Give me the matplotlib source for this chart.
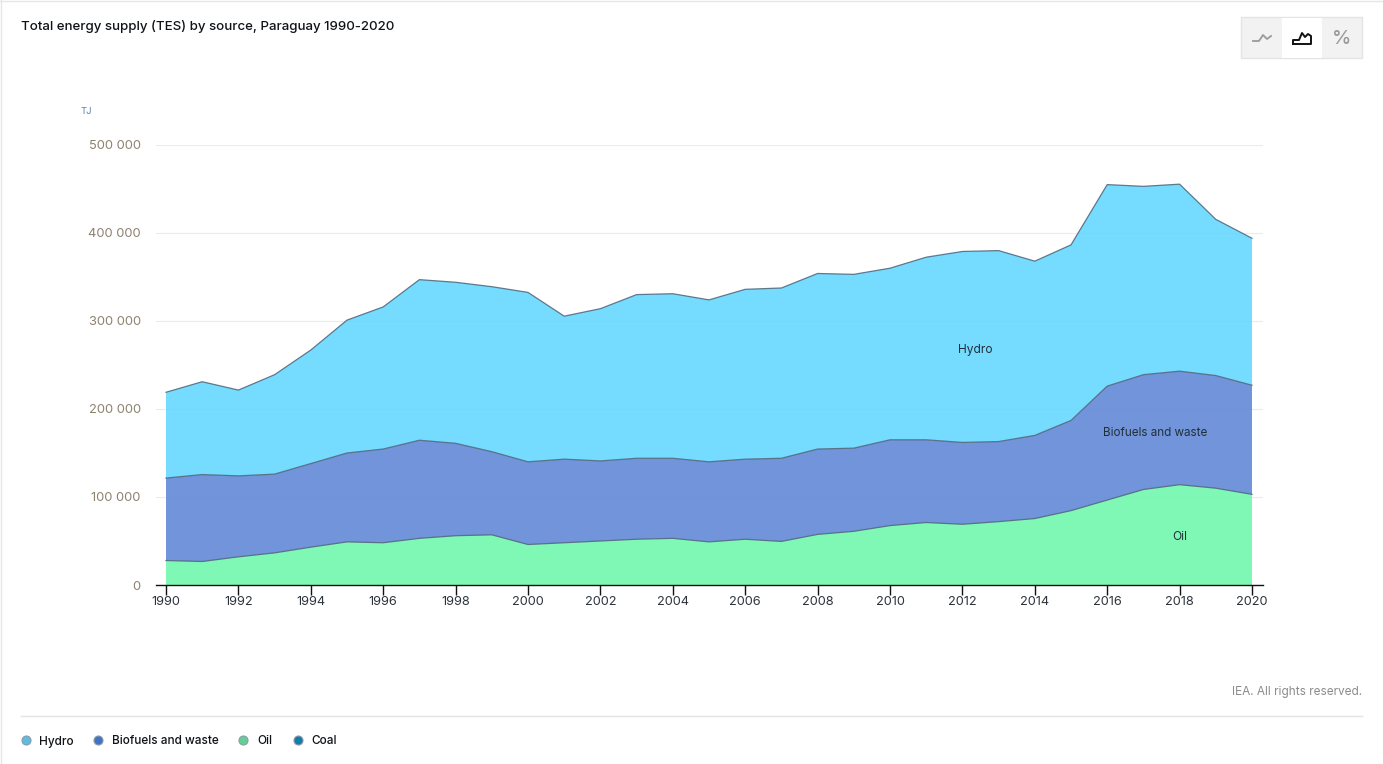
import matplotlib
matplotlib.use('Agg')
import matplotlib.pyplot as plt
from matplotlib.patches import Rectangle

plt.rcParams['font.family'] = ['Inter', 'DejaVu Sans']

years = list(range(1990, 2021))
oil = [27.8, 26.7, 32, 36.5, 43, 49, 48, 53, 56, 57, 46, 48, 50, 52, 53, 49, 52, 49.5,
       57.5, 61, 67.5, 71, 69, 72, 75.5, 84.5, 96.5, 108.5, 114, 110, 103]
biofuels = [93.7, 98.8, 92, 89.5, 95, 101, 106.5, 111.5, 105, 94.5, 94, 95, 91, 92, 91, 91,
            91, 94.5, 97, 94.5, 97.5, 94, 93, 91, 94.5, 102.5, 129.5, 130.5, 129, 128, 124]
hydro = [97.5, 105.5, 97.5, 113, 129, 151, 161.5, 182.5, 183, 187.5, 192.5, 162.5, 173, 186,
         187, 184, 193, 193.5, 199.5, 197.5, 195, 207.5, 217, 217, 198, 199.5, 229, 214,
         212.5, 177.5, 167]
oil = [v * 1000 for v in oil]
biofuels = [v * 1000 for v in biofuels]
hydro = [v * 1000 for v in hydro]

y_ticks = [0, 100000, 200000, 300000, 400000, 500000]
y_labels = ['0', '100 000', '200 000', '300 000', '400 000', '500 000']
x_ticks = list(range(1990, 2021, 2))

legend_names = ['Hydro', 'Biofuels and waste', 'Oil', 'Coal']
legend_colors = ['#5CBCE8', '#3F73C8', '#62CF96', '#0F7CB0']
legend_dots = [26, 98, 243, 298]
legend_text = [39, 112, 257, 311]

W, H = 1383, 764
fig = plt.figure(figsize=(W / 100, H / 100), dpi=100, facecolor='white')

# axes box in pixels: 156-1263 across, 145-585 down
ax = fig.add_axes([156 / W, 1 - 585 / H, (1263 - 156) / W, (585 - 145) / H])
px_year = (1252 - 166) / 30
ax.set_xlim(1990 - 10 / px_year, 2020 + 11 / px_year)
ax.set_ylim(0, 500000)

ax.stackplot(years, oil, biofuels, hydro, colors=['#72F8AD', '#6289D8', '#66D8FF'],
             alpha=0.9, linewidth=0, zorder=2)
tops = [a + b for a, b in zip(oil, biofuels)]
totals = [a + b for a, b in zip(tops, hydro)]
for line in (oil, tops, totals):
    ax.plot(years, line, color='#4D6478', linewidth=0.9, alpha=0.85, zorder=3)

ax.set_yticks(y_ticks)
ax.set_yticklabels(y_labels)
ax.set_xticks(x_ticks)
ax.grid(axis='y', color='#EBEBEB', linewidth=0.8, zorder=1)
ax.set_axisbelow(True)
for side in ('top', 'left', 'right'):
    ax.spines[side].set_visible(False)
ax.spines['bottom'].set_color('#111111')
ax.spines['bottom'].set_linewidth(1)
ax.spines['bottom'].set_zorder(5)
ax.tick_params(axis='y', length=0, pad=11, labelsize=9.3, labelcolor='#8C8270')
ax.tick_params(axis='x', length=7, width=1, color='#111111', pad=1, labelsize=9.2,
               labelcolor='#2E343C')

ax.text(2012.35, 267000, 'Hydro', fontsize=8.6, color='#20303A', ha='center', va='center')
ax.text(2017.33, 172500, 'Biofuels and waste', fontsize=8.4, color='#20303A', ha='center', va='center')
ax.text(2018, 54000, 'Oil', fontsize=8.6, color='#20303A', ha='center', va='center')

# page furniture, drawn in pixel coordinates
ui = fig.add_axes([0, 0, 1, 1], facecolor='none')
ui.set_xlim(0, W)
ui.set_ylim(H, 0)
ui.axis('off')
ui.plot([0.5, 0.5], [0, H], color='#E6E6E6', linewidth=1)
ui.plot([0, W], [0.5, 0.5], color='#E6E6E6', linewidth=1)
ui.plot([21, 1362], [715.5, 715.5], color='#E3E3E3', linewidth=1)

ui.text(21, 26.5, 'Total energy supply (TES) by source, Paraguay 1990-2020', fontsize=9.58,
        fontweight='medium', color='#101418', va='center')
ui.text(81, 111, 'TJ', fontsize=6.8, color='#5B83B0', va='center')
ui.text(1362, 691.5, 'IEA. All rights reserved.', fontsize=8.5, color='#8C8C8C', ha='right', va='center')

for dot, tx, name, col in zip(legend_dots, legend_text, legend_names, legend_colors):
    ui.scatter([dot], [740], s=42, color=col, edgecolor='#8A9AA5', linewidth=0.8)
    ui.text(tx, 744.5, name, fontsize=8.5, fontweight='medium', color='#101418', va='baseline')

# chart type switch
ui.add_patch(Rectangle((1241, 17), 121, 41, facecolor='#F2F2F2', edgecolor='#E4E4E4', linewidth=1))
ui.add_patch(Rectangle((1282, 18), 40, 40, facecolor='white', edgecolor='none'))
ui.plot([1253, 1259, 1263, 1267, 1271], [41, 41, 35, 39, 36], color='#9A9A9A', linewidth=1.3)
ui.plot([1293, 1293, 1299, 1302, 1305, 1308, 1311, 1311, 1293],
        [44, 40, 40, 33, 37, 34, 36, 44, 44], color='#111111', linewidth=1.4)
ui.text(1341.5, 38.5, '%', fontsize=14, fontweight='medium', color='#9A9A9A', ha='center', va='center')

fig.savefig('out.png', dpi=100)
